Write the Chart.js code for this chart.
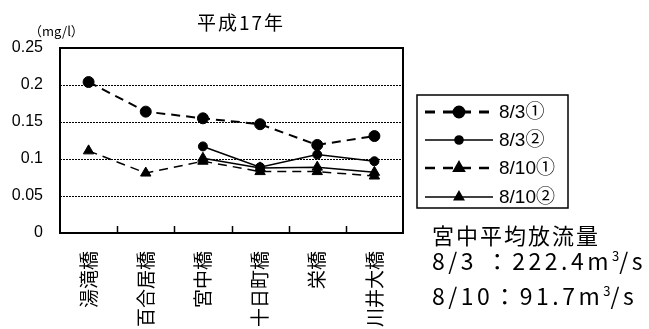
<!DOCTYPE html>
<html>
<head>
<meta charset="utf-8">
<title>平成17年</title>
<style>
    html, body {
        margin: 0;
        padding: 0;
        background: #fff;
    }
    #wrap {
        position: relative;
        width: 649px;
        height: 329px;
        overflow: hidden;
    }
    #chart {
        position: absolute;
        left: 0;
        top: 0;
    }
    .txt {
        position: absolute;
        font-family: 'Noto Sans CJK JP', sans-serif;
        color: #000;
        white-space: nowrap;
        line-height: 1;
    }
    #title { left: 197px; top: 12px; font-size: 19px; letter-spacing: 2px; }
    #unit { left: 29px; top: 24px; font-size: 13px; }
    .flow { left: 432px; font-size: 23px; letter-spacing: 3.5px; }
    .flow sup { font-size: 13px; letter-spacing: 0; }
    #flowHead { font-size: 22px; letter-spacing: 2px; }
</style>
<script src="https://cdn.jsdelivr.net/npm/chart.js"></script>
<script>
    // values (mg/l)
    const categories = ['湯滝橋', '百合居橋', '宮中橋', '十日町橋', '栄橋', '川井大橋'];
    const seriesNames = ['8/3①', '8/3②', '8/10①', '8/10②'];
    const aug3First = [0.204, 0.164, 0.155, 0.147, 0.119, 0.131];
    const aug3Second = [null, null, 0.117, 0.089, 0.106, 0.097];
    const aug10First = [0.111, 0.081, 0.097, 0.083, 0.083, 0.077];
    const aug10Second = [null, null, 0.101, 0.088, 0.089, 0.082];
    const yTicks = [0, 0.05, 0.1, 0.15, 0.2, 0.25];

    // box round the plot + small inward ticks between categories
    const framePlugin = {
        id: 'frame',
        beforeDatasetsDraw(chart) {
            const ctx = chart.ctx;
            const a = chart.chartArea;
            const x = chart.scales.x;
            ctx.save();
            ctx.strokeStyle = '#000';
            ctx.lineWidth = 2;
            ctx.setLineDash([]);
            ctx.strokeRect(a.left, a.top, a.right - a.left, a.bottom - a.top);
            ctx.lineWidth = 1.5;
            for (let i = 1; i < categories.length; i++) {
                const px = Math.round((x.getPixelForValue(i - 1) + x.getPixelForValue(i)) / 2) + 0.5;
                ctx.beginPath();
                ctx.moveTo(px, a.bottom);
                ctx.lineTo(px, a.bottom - 7);
                ctx.stroke();
            }
            ctx.restore();
        }
    };

    // legend box on the right, drawn from the dataset styles
    const legendPlugin = {
        id: 'boxLegend',
        afterDraw(chart) {
            const ctx = chart.ctx;
            const left = 417, top = 95, right = 568, bottom = 208;
            const rows = [112, 140, 168, 197];
            ctx.save();
            ctx.strokeStyle = '#000';
            ctx.lineWidth = 1.5;
            ctx.setLineDash([]);
            ctx.strokeRect(left, top, right - left, bottom - top);
            chart.data.datasets.forEach((ds, i) => {
                const y = rows[i];
                ctx.strokeStyle = '#000';
                ctx.lineWidth = ds.borderWidth + (ds.borderDash.length ? 1 : 0);
                ctx.setLineDash(ds.borderDash.length ? [10, 8] : []);
                ctx.beginPath();
                ctx.moveTo(425, y);
                ctx.lineTo(493, y);
                ctx.stroke();
                ctx.setLineDash([]);
                Chart.helpers.drawPoint(ctx, {
                    pointStyle: ds.pointStyle,
                    radius: ds.pointRadius * 0.9,
                    borderWidth: 1
                }, 459, y);
                ctx.fillStyle = '#000';
                ctx.font = "19px 'Liberation Sans', 'Noto Sans CJK JP', sans-serif";
                ctx.textBaseline = 'middle';
                ctx.textAlign = 'left';
                ctx.fillText(ds.label, 499, y + 1);
            });
            ctx.restore();
        }
    };

    function makeSet(label, data, dashed, style, radius, width) {
        return {
            label: label,
            data: data,
            borderColor: '#000',
            backgroundColor: '#000',
            borderWidth: width,
            borderDash: dashed ? [9, 6] : [],
            pointStyle: style,
            pointRadius: radius,
            pointBorderWidth: 1,
            pointBackgroundColor: '#000',
            pointBorderColor: '#000',
            fill: false,
            tension: 0
        };
    }

    document.addEventListener('DOMContentLoaded', function() {
        const ctx = document.getElementById('chart').getContext('2d');
        new Chart(ctx, {
            type: 'line',
            data: {
                labels: categories,
                datasets: [
                    makeSet(seriesNames[0], aug3First, true, 'circle', 5.5, 2),
                    makeSet(seriesNames[1], aug3Second, false, 'circle', 4.5, 1.5),
                    makeSet(seriesNames[2], aug10First, true, 'triangle', 6, 1.5),
                    makeSet(seriesNames[3], aug10Second, false, 'triangle', 6, 1.5)
                ]
            },
            options: {
                responsive: false,
                animation: false,
                layout: { padding: { top: 48, right: 246, left: 0, bottom: 0 } },
                plugins: {
                    legend: { display: false },
                    tooltip: { enabled: false },
                    title: { display: false }
                },
                scales: {
                    x: {
                        offset: true,
                        grid: { display: false, drawTicks: false },
                        border: { display: false },
                        ticks: {
                            autoSkip: false,
                            minRotation: 90,
                            maxRotation: 90,
                            padding: 18,
                            color: '#000',
                            font: { family: "'Noto Sans CJK JP', sans-serif", size: 19 }
                        },
                        afterFit(scale) {
                            scale.height = 96;
                            scale.paddingLeft = 0;
                            scale.paddingRight = 0;
                        }
                    },
                    y: {
                        min: 0,
                        max: 0.25,
                        grid: { color: '#000', lineWidth: 1, drawTicks: false },
                        border: { display: false, dash: [2, 1] },
                        ticks: {
                            padding: 17,
                            color: '#000',
                            font: { family: "'Liberation Sans', sans-serif", size: 16 },
                            callback: v => String(v)
                        },
                        afterBuildTicks(scale) {
                            scale.ticks = yTicks.map(v => ({ value: v }));
                        },
                        afterFit(scale) {
                            scale.width = 60;
                            scale.paddingTop = 0;
                            scale.paddingBottom = 0;
                        }
                    }
                }
            },
            plugins: [framePlugin, legendPlugin]
        });
    });
</script>
</head>
<body>
<div id="wrap">
    <canvas id="chart" width="649" height="329"></canvas>
    <div class="txt" id="title">平成17年</div>
    <div class="txt" id="unit">（mg/l）</div>
    <div class="txt flow" id="flowHead" style="top:223px;">宮中平均放流量</div>
    <div class="txt flow" style="top:249px;">8/3 ：222.4m<sup>3</sup>/s</div>
    <div class="txt flow" style="top:284px;">8/10：91.7m<sup>3</sup>/s</div>
</div>
</body>
</html>
